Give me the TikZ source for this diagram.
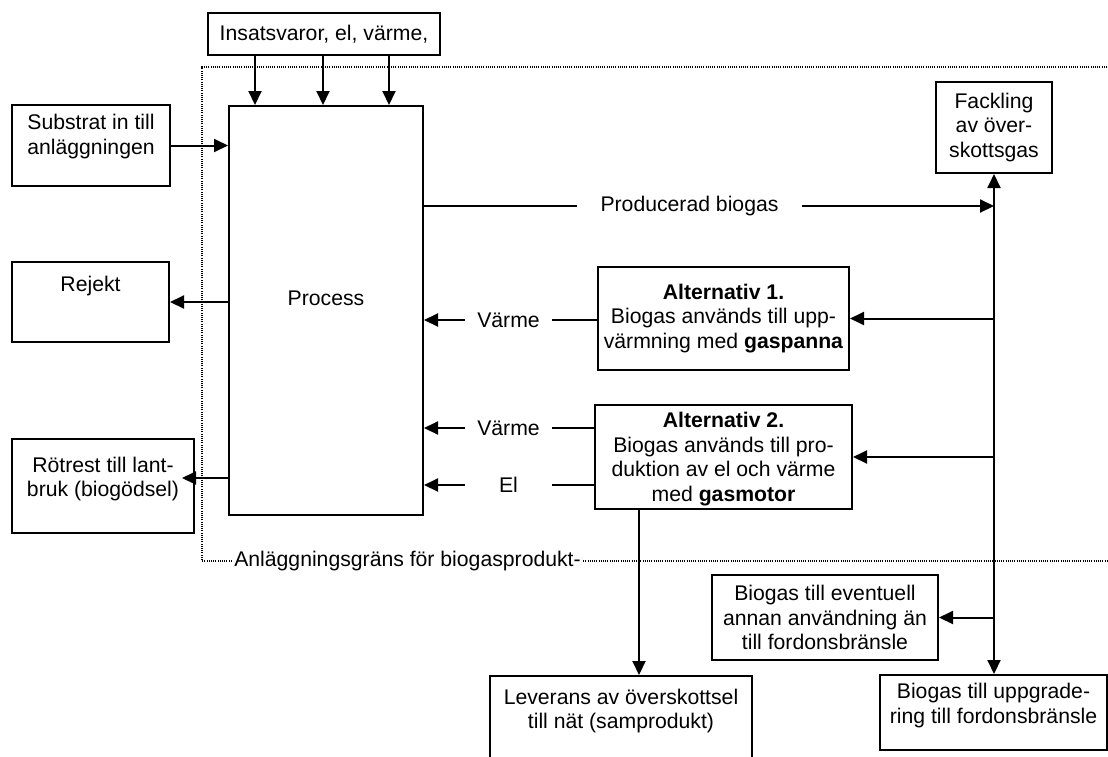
\documentclass[tikz,border=0pt]{standalone}
\usepackage{fontspec}
\setmainfont{Liberation Sans}
\usetikzlibrary{arrows.meta}

\tikzset{
    box/.style={draw, line width=1pt, align=center, inner sep=0pt},
    lbl/.style={inner sep=0pt, minimum width=43.5pt},
    flow/.style={line width=1pt},
    boundary/.style={line width=0.8pt, dash pattern=on 0.5pt off 0.6pt},
    >={Triangle[length=7pt,width=6.5pt]}
}

\begin{document}
\begin{tikzpicture}[x=0.5pt, y=-0.5pt, every node/.style={font=\fontsize{10.6pt}{12.25pt}\selectfont}]
    \useasboundingbox (0,0) rectangle (1108,756);

    \node[box, minimum width=116pt, minimum height=21pt] (insats) at (324,34) {Insatsvaror, el, värme,};
    \node[box, minimum width=97pt, minimum height=204.5pt, text depth=12.5pt] (process) at (326,310.5) {Process};
    \node[box, minimum width=79pt, minimum height=40.5pt, text depth=11pt] (subst) at (91,145.5) {Substrat in till\\anläggningen};
    \node[box, minimum width=78.5pt, minimum height=40pt, text depth=17.75pt] (rejekt) at (90.5,302) {Rejekt};
    \node[box, minimum width=91pt, minimum height=47pt, text depth=9.25pt] (rotrest) at (103,486) {Rötrest till lant-\\bruk (biogödsel)};
    \node[box, minimum width=58pt, minimum height=45.5pt] (fackling) at (994,127.5) {Fackling\\av över-\\skottsgas};
    \node[box, minimum width=125.5pt, minimum height=51.5pt] (alt1) at (723.5,318.5) {\textbf{Alternativ 1.}\\Biogas används till upp-\\värmning med \textbf{gaspanna}};
    \node[box, minimum width=128.5pt, minimum height=52pt, text depth=0pt] (alt2) at (723.5,457) {\textbf{Alternativ 2.}\\Biogas används till pro-\\duktion av el och värme\\med \textbf{gasmotor}};
    \node[box, minimum width=113pt, minimum height=42.5pt] (eventuell) at (825,617.5) {Biogas till eventuell\\annan användning än\\till fordonsbränsle};
    \node[box, minimum width=131pt, minimum height=45pt, text depth=12.25pt] (leverans) at (621,721) {Leverans av överskottsel\\till nät (samprodukt)};
    \node[box, minimum width=113.5pt, minimum height=37.5pt, text depth=9pt] (uppgr) at (993.5,712.5) {Biogas till uppgrade-\\ring till fordonsbränsle};

    \node[inner sep=0pt, minimum width=112.5pt] (prod) at (689.5,206) {Producerad biogas};
    \node[lbl] (varme1) at (508.5,320) {Värme};
    \node[lbl] (varme2) at (508.5,428) {Värme};
    \node[lbl] (el) at (508.5,485) {El};
    \node[inner sep=1pt] (limit) at (407.5,561) {Anläggningsgräns för biogasprodukt-};

    \coordinate (drop) at (639,0);
    \coordinate (rotrest tip) at (182,478);

    \draw[boundary] (limit.west) -- (202,561) -- (202,67) -- (1108,67);
    \draw[boundary] (limit.east) -- (1108,561);

    \foreach \x in {255,323,389} {
        \coordinate (feed) at (\x,0);
        \draw[flow,->] (insats.south -| feed) -- (process.north -| feed);
    }
    \draw[flow,->] (subst.east) -- (process.west |- subst.east);
    \draw[flow,->] (process.west |- rejekt.east) -- (rejekt.east);
    \draw[flow,->] (process.west |- rotrest tip) -- (rotrest tip);

    \draw[flow] (process.east |- prod) -- (prod.west);
    \draw[flow,->] (prod.east) -- (fackling.south |- prod);
    \draw[flow,<->] (fackling.south) -- (fackling.south |- uppgr.north);
    \draw[flow,->] (fackling.south |- alt1.east) -- (alt1.east);
    \draw[flow,->] (fackling.south |- alt2.east) -- (alt2.east);
    \draw[flow,->] (fackling.south |- eventuell.east) -- (eventuell.east);

    \draw[flow] (alt1.west |- varme1) -- (varme1.east);
    \draw[flow,->] (varme1.west) -- (process.east |- varme1);
    \draw[flow] (alt2.west |- varme2) -- (varme2.east);
    \draw[flow,->] (varme2.west) -- (process.east |- varme2);
    \draw[flow] (alt2.west |- el) -- (el.east);
    \draw[flow,->] (el.west) -- (process.east |- el);
    \draw[flow,->] (alt2.south -| drop) -- (leverans.north -| drop);
\end{tikzpicture}
\end{document}
